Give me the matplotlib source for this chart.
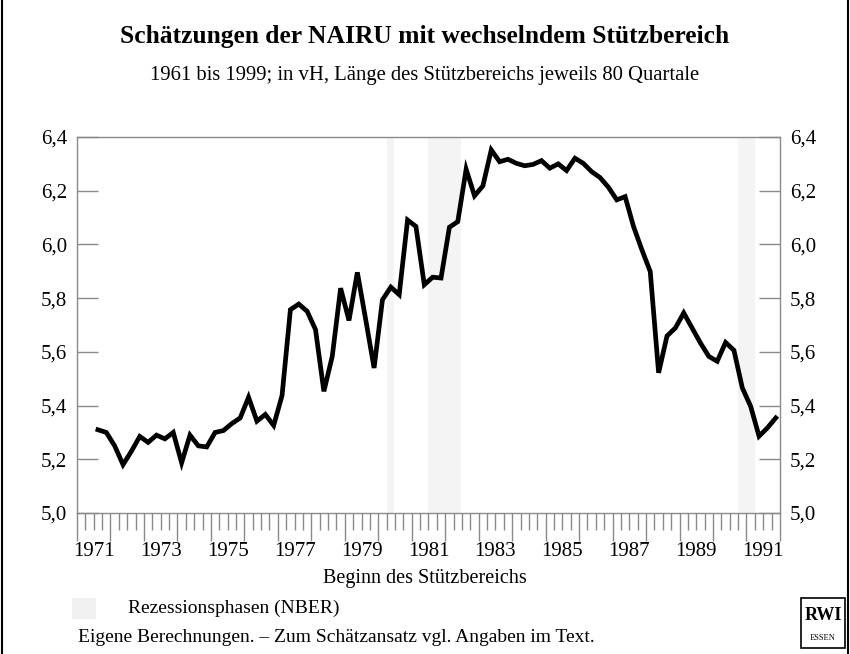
import numpy as np
import pandas as pd
import matplotlib
matplotlib.use("Agg")
import matplotlib.pyplot as plt
from matplotlib.ticker import FixedLocator, FuncFormatter
from matplotlib.patches import Rectangle

plt.rcParams['font.family'] = ['Liberation Serif', 'DejaVu Serif']

# NAIRU estimates, quarterly, start of the 80-quarter window
quarters = pd.period_range('1971Q3', '1991Q4', freq='Q')
nairu = [5.31, 5.30,
         5.25, 5.18, 5.23, 5.285,
         5.263, 5.29, 5.276, 5.30,
         5.187, 5.29, 5.25, 5.246,
         5.30, 5.307, 5.333, 5.354,
         5.431, 5.342, 5.367, 5.326,
         5.437, 5.757, 5.778, 5.751,
         5.683, 5.453, 5.583, 5.837,
         5.717, 5.896, 5.72, 5.540,
         5.794, 5.841, 5.813, 6.091,
         6.067, 5.850, 5.878, 5.875,
         6.064, 6.085, 6.280, 6.181,
         6.218, 6.352, 6.308, 6.317,
         6.302, 6.293, 6.298, 6.312,
         6.284, 6.300, 6.275, 6.321,
         6.302, 6.271, 6.249, 6.213,
         6.166, 6.178, 6.067, 5.980,
         5.899, 5.522, 5.659, 5.689,
         5.745, 5.689, 5.633, 5.583,
         5.565, 5.635, 5.606, 5.466,
         5.397, 5.286, 5.317, 5.354]

# recession phases (NBER), decimal years
recessions = [(1980.25, 1980.47), (1981.48, 1982.47), (1990.75, 1991.25)]

year_labels = list(range(1971, 1992, 2))
y_ticks = [5.0, 5.2, 5.4, 5.6, 5.8, 6.0, 6.2, 6.4]

x = np.array([q.year + (q.quarter - 1) / 4 + 0.125 for q in quarters])

fig = plt.figure(figsize=(8.5, 6.54), dpi=100)
ax = fig.add_axes([0.0906, 0.2156, 0.8270, 0.5749])

for start, end in recessions:
    ax.axvspan(start, end, color='#f4f4f4', lw=0, zorder=0)

ax.plot(x, nairu, color='black', lw=3.4, solid_joinstyle='miter', zorder=3)

ax.set_xlim(1971, 1992)
ax.set_ylim(5.0, 6.4)

for s in ax.spines.values():
    s.set_color('#8a8a8a')
    s.set_linewidth(1.0)

# y axis: ticks inside on both sides, labels outside
comma = FuncFormatter(lambda v, p: f'{v:.1f}'.replace('.', ','))
ax.yaxis.set_major_locator(FixedLocator(y_ticks))
ax.yaxis.set_major_formatter(comma)
ax.tick_params(axis='y', which='major', direction='in', length=15, width=1,
               color='#8a8a8a', left=True, right=True, labelleft=True,
               labelright=True, labelsize=15, pad=7)

# x axis: yearly long ticks, quarterly short ticks, labels at mid-year
ax.xaxis.set_major_locator(FixedLocator(np.arange(1971, 1993)))
ax.xaxis.set_minor_locator(FixedLocator(np.arange(1971, 1992.01, 0.25)))
ax.xaxis.set_major_formatter(FuncFormatter(lambda v, p: ''))
ax.tick_params(axis='x', which='major', direction='out', length=20, width=1,
               color='#8a8a8a')
ax.tick_params(axis='x', which='minor', direction='out', length=12, width=1,
               color='#8a8a8a')
for yr in year_labels:
    ax.text(yr + 0.5, -0.078, str(yr), transform=ax.get_xaxis_transform(),
            ha='center', va='top', fontsize=15)

fig.text(0.5, 0.944, 'Schätzungen der NAIRU mit wechselndem Stützbereich',
         ha='center', va='center', fontsize=18.4, fontweight='bold')
fig.text(0.5, 0.884, '1961 bis 1999; in vH, Länge des Stützbereichs jeweils 80 Quartale',
         ha='center', va='center', fontsize=14.9)
fig.text(0.5, 0.116, 'Beginn des Stützbereichs', ha='center', va='center', fontsize=14.5)

# legend
fig.patches.append(Rectangle((72 / 850, 1 - 619 / 654), 24 / 850, 21 / 654,
                             transform=fig.transFigure, color='#f0f0f0', lw=0))
fig.text(128 / 850, 1 - 608 / 654, 'Rezessionsphasen (NBER)', ha='left',
         va='center', fontsize=14)
fig.text(78 / 850, 1 - 637 / 654,
         'Eigene Berechnungen. – Zum Schätzansatz vgl. Angaben im Text.',
         ha='left', va='center', fontsize=14)

# RWI logo
fig.patches.append(Rectangle((801 / 850, 1 - 648 / 654), 44 / 850, 50 / 654,
                             transform=fig.transFigure, fill=False,
                             edgecolor='black', lw=1.2))
fig.text(823 / 850, 1 - 616 / 654, 'RWI', ha='center', va='center',
         fontsize=13, fontweight='bold', fontstretch='condensed')
fig.text(823 / 850, 1 - 638 / 654, 'ESSEN', ha='center', va='center', fontsize=6)

# frame at figure edges
fig.add_artist(plt.Line2D([0.002, 0.002], [0, 1], transform=fig.transFigure,
                          color='black', lw=1.5))
fig.add_artist(plt.Line2D([0.998, 0.998], [0, 1], transform=fig.transFigure,
                          color='black', lw=1.5))

fig.savefig('out.png', dpi=100)
